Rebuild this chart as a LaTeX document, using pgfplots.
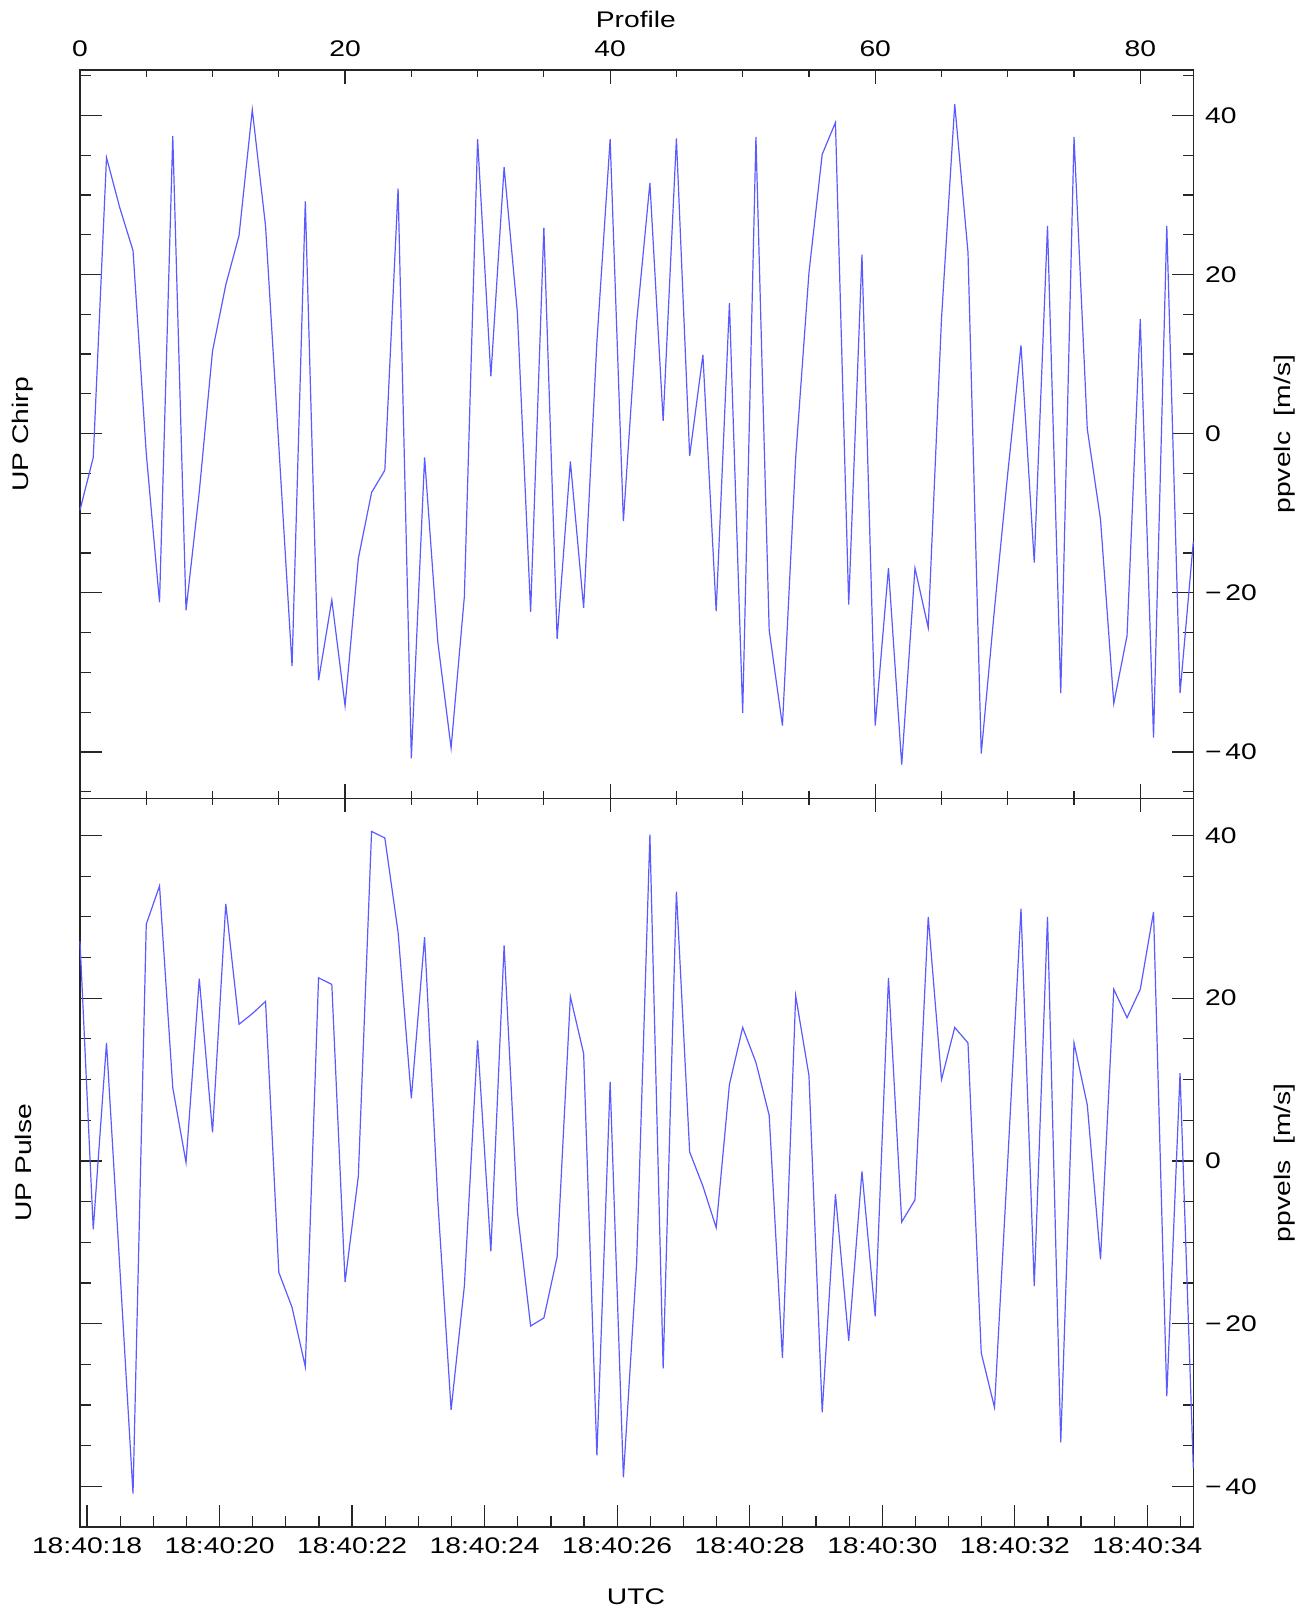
\documentclass[border=0pt]{standalone}
\usepackage{pgfplots}
\pgfplotsset{compat=1.18}
\usepackage{fontspec}
\setmainfont{Liberation Sans}[FakeStretch=1.25]
\definecolor{lineblue}{RGB}{90,90,255}
\newcommand\ff{\fontsize{11.3pt}{13pt}\selectfont}
\pgfplotstableread{
x y
0 -9.6
1 -3.0
2 34.7
3 28.4
4 23.0
5 -2.5
6 -21.2
7 37.4
8 -22.2
9 -7.3
10 10.4
11 18.7
12 24.9
13 40.7
14 26.1
15 -1.5
16 -29.2
17 29.2
18 -31.0
19 -20.9
20 -34.2
21 -15.7
22 -7.4
23 -4.6
24 30.8
25 -40.8
26 -3.0
27 -26.2
28 -39.5
29 -20.5
30 37.0
31 7.2
32 33.5
33 15.2
34 -22.4
35 25.9
36 -25.8
37 -3.5
38 -21.9
39 11.5
40 37.0
41 -11.0
42 14.0
43 31.5
44 1.6
45 37.1
46 -2.8
47 9.9
48 -22.3
49 16.4
50 -35.1
51 37.3
52 -24.7
53 -36.7
54 -3.0
55 20.2
56 35.1
57 39.1
58 -21.5
59 22.5
60 -36.7
61 -16.9
62 -41.6
63 -16.9
64 -24.4
65 14.4
66 41.4
67 22.8
68 -40.2
69 -22.0
70 -5.0
71 11.1
72 -16.2
73 26.1
74 -32.6
75 37.3
76 0.6
77 -10.8
78 -33.9
79 -25.4
80 14.4
81 -38.2
82 26.1
83 -32.6
84 -13.6
}\chirp
\pgfplotstableread{
x y
0 27.0
1 -8.4
2 14.5
3 -13.0
4 -40.9
5 29.1
6 33.8
7 9.0
8 -0.2
9 22.4
10 3.5
11 31.6
12 16.8
13 18.1
14 19.6
15 -13.7
16 -18.0
17 -25.3
18 22.5
19 21.7
20 -14.9
21 -1.9
22 40.5
23 39.7
24 28.1
25 7.7
26 27.5
27 -5.0
28 -30.6
29 -15.4
30 14.8
31 -11.1
32 26.5
33 -6.2
34 -20.3
35 -19.3
36 -11.8
37 20.2
38 13.2
39 -36.2
40 9.7
41 -38.9
42 -12.5
43 40.1
44 -25.5
45 33.1
46 1.1
47 -3.1
48 -8.2
49 9.4
50 16.4
51 12.1
52 5.6
53 -24.2
54 20.3
55 10.5
56 -30.9
57 -4.1
58 -22.1
59 -1.3
60 -19.1
61 22.5
62 -7.5
63 -4.8
64 30.0
65 10.0
66 16.4
67 14.5
68 -23.6
69 -30.3
70 0.0
71 31.0
72 -15.4
73 30.0
74 -34.6
75 14.5
76 6.9
77 -12.1
78 21.1
79 17.6
80 21.1
81 30.6
82 -28.9
83 10.8
84 -37.7
}\pulse
\begin{document}
\begin{tikzpicture}
\pgfplotsset{
  every axis/.append style={
    scale only axis, width=556.65pt, height=364.25pt,
    xmin=0, xmax=84,
    axis line style={black!85, line width=0.7pt},
    tick style={black!85, line width=0.6pt},
    tick align=inside,
    font=\ff,
    /pgf/number format/assume math mode=true,
    clip=false,
  },
  myy/.style={
    ytick={-40,-20,0,20,40}, yticklabels={−\,40,−\,20,0,20,40},
    minor ytick={-45,-40,...,45},
    major tick length=10.8pt, minor tick length=5.3pt,
    ytick pos=both, yticklabel pos=right,
    yticklabel style={anchor=west, xshift=2.4pt},
  },
}
\path[use as bounding box] (0,0) rectangle (658pt,806pt);
% top panel
\begin{axis}[at={(40pt,406.75pt)}, anchor=south west, myy,
  ymin=-45.85, ymax=45.7, xtick=\empty]
\addplot[lineblue, line width=0.6pt] table[x=x,y=y] {\chirp};
\end{axis}
\begin{axis}[at={(40pt,406.75pt)}, anchor=south west,
  ymin=-45.85, ymax=45.7, hide y axis,
  xtick={0,20,40,60,80}, xticklabels={0,20,40,60,80},
  minor xtick={0,5,...,80},
  xtick pos=both, xticklabel pos=upper,
  major tick length=7pt, minor tick length=3.5pt,
  xticklabel style={anchor=center, yshift=10.85pt}]
\end{axis}
% bottom panel
\begin{axis}[at={(40pt,42.5pt)}, anchor=south west, myy,
  ymin=-45, ymax=44.55,
  xtick={0.53,10.53,20.53,30.53,40.53,50.53,60.53,70.53,80.53},
  xticklabels={18:40:18,18:40:20,18:40:22,18:40:24,18:40:26,18:40:28,18:40:30,18:40:32,18:40:34},
  minor xtick={3.03,5.53,8.03,13.03,15.53,18.03,23.03,25.53,28.03,33.03,35.53,38.03,43.03,45.53,48.03,53.03,55.53,58.03,63.03,65.53,68.03,73.03,75.53,78.03,83.03},
  xtick pos=bottom,
  xticklabel style={anchor=center, yshift=-9.25pt}]
\addplot[lineblue, line width=0.6pt] table[x=x,y=y] {\pulse};
\end{axis}
\begin{axis}[at={(40pt,42.5pt)}, anchor=south west,
  ymin=-45, ymax=44.55, hide y axis,
  xtick={0,20,40,60,80}, xticklabels={},
  minor xtick={0,5,...,80},
  xtick pos=top,
  major tick length=7pt, minor tick length=3.5pt]
\end{axis}
\begin{scope}[font=\ff]
\node at (317.95pt,796.25pt) {Profile};
\node at (317.95pt,7.5pt) {UTC};
\node[rotate=90] at (11.5pt,588.9pt) {UP Chirp};
\node[rotate=90] at (11.5pt,224.6pt) {UP Pulse};
\node[rotate=90] at (642.5pt,588.9pt) {ppvelc\ \ [m/s]};
\node[rotate=90] at (642.5pt,224.6pt) {ppvels\ \ [m/s]};
\end{scope}
\end{tikzpicture}
\end{document}
